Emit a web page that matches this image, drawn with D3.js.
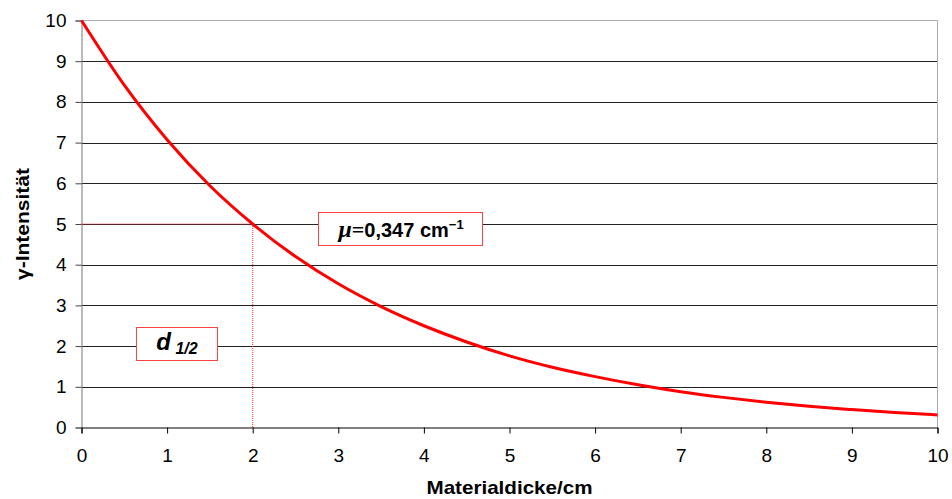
<!DOCTYPE html>
<html>
<head>
<meta charset="utf-8">
<script src="https://cdn.jsdelivr.net/npm/d3@7"></script>
<style>
  body { margin: 0; background: #fff; }
  text { font-family: "Liberation Sans", Arial, sans-serif; }
  .tick text { font-size: 19px; fill: #000; }
</style>
</head>
<body>
<div id="chartDiv"></div>
<script>
// values
var thickness = [0, 0.5, 1, 1.5, 2, 2.5, 3, 3.5, 4, 4.5, 5, 5.5, 6, 6.5, 7, 7.5, 8, 8.5, 9, 9.5, 10];
var intensity = [10, 8.41, 7.07, 5.94, 5.0, 4.2, 3.53, 2.97, 2.5, 2.1, 1.76, 1.48, 1.25, 1.05, 0.88, 0.74, 0.62, 0.52, 0.44, 0.37, 0.31];
var xTicks = [0, 1, 2, 3, 4, 5, 6, 7, 8, 9, 10];
var yTicks = [0, 1, 2, 3, 4, 5, 6, 7, 8, 9, 10];
var halfPoint = [2, 5];

var width = 952, height = 499;
var plotLeft = 81.5, plotRight = 937.5, plotTop = 20.5, plotBottom = 427.5;

var svg = d3.select("#chartDiv")
    .append("svg")
    .attr("width", width)
    .attr("height", height);

var x = d3.scaleLinear().domain([0, 10]).range([plotLeft, plotRight]);
var y = d3.scaleLinear().domain([0, 10]).range([plotBottom, plotTop]);

// gridlines
svg.append("g")
    .selectAll("line")
    .data(yTicks.filter(function (d) { return d > 0 && d < 10; }))
    .enter().append("line")
    .attr("x1", plotLeft).attr("x2", plotRight)
    .attr("y1", function (d) { return Math.round(y(d)) + 0.5; })
    .attr("y2", function (d) { return Math.round(y(d)) + 0.5; })
    .style("stroke", "#222")
    .style("stroke-width", 1);

// plot border (top and right)
svg.append("path")
    .attr("d", "M" + plotLeft + "," + plotTop + "H" + plotRight + "V" + plotBottom)
    .style("fill", "none")
    .style("stroke", "#aaa")
    .style("stroke-width", 1);

// y axis
var yAxis = svg.append("g")
    .attr("transform", "translate(" + plotLeft + ",0)")
    .call(d3.axisLeft(y).tickValues(yTicks).tickSize(6).tickPadding(9).tickFormat(d3.format("d")));
yAxis.select(".domain").style("stroke", "#777");
yAxis.selectAll("line").style("stroke", "#444");

// x axis
var xAxis = svg.append("g")
    .attr("transform", "translate(0," + plotBottom + ")")
    .call(d3.axisBottom(x).tickValues(xTicks).tickSize(6).tickPadding(15).tickFormat(d3.format("d")));
xAxis.select(".domain").style("stroke", "#000");
xAxis.selectAll("line").style("stroke", "#000");

// dotted half-value lines
svg.append("line")
    .attr("x1", plotLeft).attr("x2", x(halfPoint[0]))
    .attr("y1", y(halfPoint[1])).attr("y2", y(halfPoint[1]))
    .style("stroke", "#f33").style("stroke-width", 1).style("stroke-dasharray", "1,1");
svg.append("line")
    .attr("x1", x(halfPoint[0])).attr("x2", x(halfPoint[0]))
    .attr("y1", y(halfPoint[1])).attr("y2", plotBottom)
    .style("stroke", "#f33").style("stroke-width", 1).style("stroke-dasharray", "1,1");

// curve
var line = d3.line()
    .x(function (d, i) { return x(thickness[i]); })
    .y(function (d) { return y(d); })
    .curve(d3.curveMonotoneX);
svg.append("path")
    .datum(intensity)
    .attr("d", line)
    .style("fill", "none")
    .style("stroke", "#ff0000")
    .style("stroke-width", 3);

// annotation boxes
svg.append("rect")
    .attr("x", 318.5).attr("y", 212.5).attr("width", 164).attr("height", 33)
    .style("fill", "#fff").style("stroke", "#f44").style("stroke-width", 1);
var mu = svg.append("text")
    .attr("x", 401).attr("y", 237)
    .attr("text-anchor", "middle")
    .style("font-size", "20px").style("font-weight", "bold");
mu.append("tspan").text("\u03bc")
    .style("font-family", "Liberation Serif, Times New Roman, serif")
    .style("font-style", "italic").style("font-size", "24px");
mu.append("tspan").text("=")
    .style("font-family", "Liberation Serif, Times New Roman, serif").style("font-size", "22px");
mu.append("tspan").text("0,347 cm");
mu.append("tspan").text("\u22121").attr("dy", -8).style("font-size", "13px");

svg.append("rect")
    .attr("x", 136.5).attr("y", 327.5).attr("width", 81).attr("height", 33)
    .style("fill", "#fff").style("stroke", "#f44").style("stroke-width", 1);
var dh = svg.append("text")
    .attr("x", 177).attr("y", 350)
    .attr("text-anchor", "middle")
    .style("font-weight", "bold").style("font-style", "italic");
dh.append("tspan").text("d").style("font-size", "24px");
dh.append("tspan").text(" 1/2").attr("dy", 4).style("font-size", "16px");

// axis titles
svg.append("text")
    .attr("x", (plotLeft + plotRight) / 2).attr("y", 494)
    .attr("text-anchor", "middle")
    .attr("textLength", 166).attr("lengthAdjust", "spacingAndGlyphs")
    .style("font-size", "19px").style("font-weight", "bold")
    .text("Materialdicke/cm");
svg.append("text")
    .attr("transform", "translate(29," + (plotTop + plotBottom) / 2 + ") rotate(-90)")
    .attr("text-anchor", "middle")
    .attr("textLength", 112).attr("lengthAdjust", "spacingAndGlyphs")
    .style("font-size", "19px").style("font-weight", "bold")
    .text("\u03b3-Intensität");
</script>
</body>
</html>
